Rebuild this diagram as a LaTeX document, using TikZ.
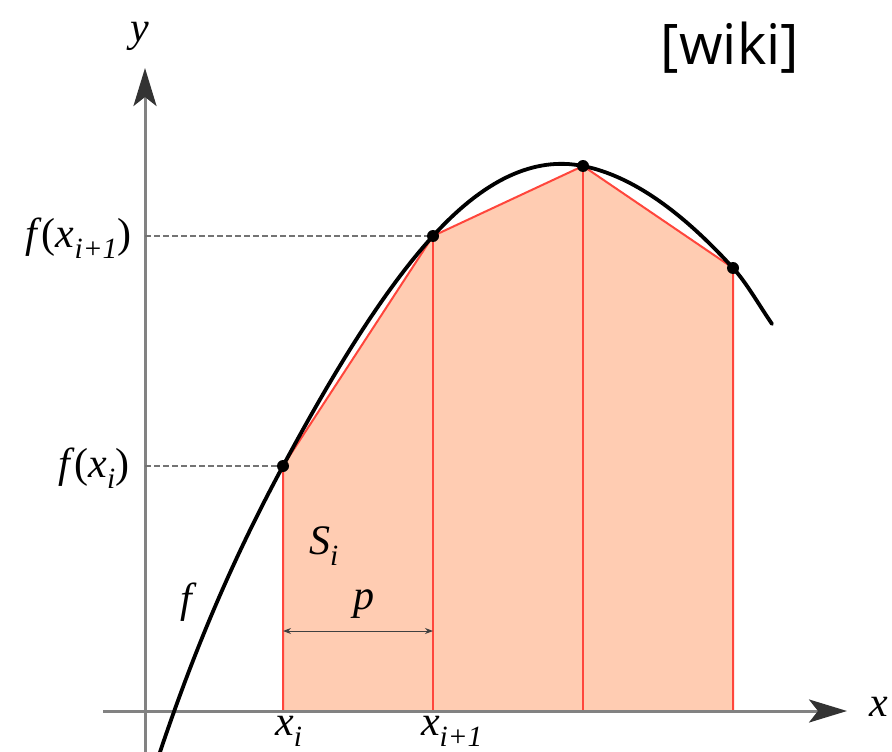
\documentclass[tikz,border=0pt]{standalone}
\usepackage{fontspec}
\setmainfont{Liberation Serif}
\newfontfamily\lblfont{Liberation Serif}
\newfontfamily\wikifont{Open Sans}
\usetikzlibrary{arrows.meta}

\definecolor{trapfill}{RGB}{255,204,178}
\definecolor{trapedge}{RGB}{255,70,60}
\definecolor{axisgray}{RGB}{130,130,130}

\newcommand{\itl}[1]{\textit{#1}}

\begin{document}
\begin{tikzpicture}[
    x=1pt, y=-1pt,
    axis/.style={line width=3pt, axisgray,
        -{Stealth[length=38pt, width=23pt, inset=9pt, black!80]}},
    guide/.style={dash pattern=on 6pt off 3pt, line width=1.3pt, black!55},
    edge/.style={trapedge, line width=2pt},
    curve/.style={line width=3.8pt, black},
    dot/.style={circle, fill=black, inner sep=0pt, minimum size=12pt},
    lbl/.style={font=\lblfont\fontsize{42}{48}\selectfont, inner sep=0pt},
    span/.style={line width=1pt, black!75, {Stealth[length=8pt, width=6pt]}-{Stealth[length=8pt, width=6pt]}}
]
\useasboundingbox (0,0) rectangle (892,752);

% sample points and their feet
\coordinate (P0) at (283,466);
\coordinate (P1) at (433,236);
\coordinate (P2) at (583,166);
\coordinate (P3) at (733,268);
\coordinate (B0) at (283,711);
\coordinate (B1) at (433,711);
\coordinate (B2) at (583,711);
\coordinate (B3) at (733,711);

% trapezoids
\fill[trapfill] (B0) -- (P0) -- (P1) -- (P2) -- (P3) -- (B3) -- cycle;
\draw[edge] (B0) -- (P0) -- (P1) -- (P2) -- (P3) -- (B3);
\draw[edge] (B1) -- (P1);
\draw[edge] (B2) -- (P2);

% axes
\coordinate (xstart) at (103,711);
\coordinate (xtip) at (847,711);
\coordinate (ystart) at (145,760);
\coordinate (ytip) at (145,68);
\draw[axis] (xstart) -- (xtip);
\draw[axis] (ystart) -- (ytip);

% guides to the y axis
\coordinate (Y0) at (145,466);
\coordinate (Y1) at (145,236);
\draw[guide] (Y0) -- (P0);
\draw[guide] (Y1) -- (P1);

% the function
\coordinate (fstart) at (158,758);
\coordinate (fend) at (772,324);
\draw[curve, line cap=round] (fstart)
    .. controls (200,632) and (241,544) .. (P0)
    .. controls (333,373) and (383,291) .. (P1)
    .. controls (483,181) and (533,156) .. (P2)
    .. controls (633,176) and (683,213) .. (P3)
    .. controls (746,282) and (759,305) .. (fend);

\foreach \p in {P0,P1,P2,P3}
    \node[dot] at (\p) {};

% width of a strip
\coordinate (W0) at (283,631);
\coordinate (W1) at (433,631);
\draw[span] (W0) -- (W1);

% labels
\node[lbl] (ylab) at (140,36) {\itl{y}};
\node[lbl] (xlab) at (879,707) {\itl{x}};
\node[lbl, anchor=east] (fxi) at (130,468) {\itl{f}(\itl{x}\textsubscript{\itl{i}})};
\node[lbl, anchor=east] (fxi1) at (132,238) {\itl{f}(\itl{x}\textsubscript{\itl{i+1}})};
\node[lbl] (flab) at (189,602) {\itl{f}};
\node[lbl] (slab) at (324,546) {\itl{S}\textsubscript{\itl{i}}};
\node[lbl] (plab) at (364,604) {\itl{p}};
\node[lbl] (xilab) at (289,731) {\itl{x}\textsubscript{\itl{i}}};
\node[lbl] (xi1lab) at (452,731) {\itl{x}\textsubscript{\itl{i+1}}};
\node[font=\wikifont\fontsize{56}{60}\selectfont, inner sep=0pt] (wiki) at (730,48) {[wiki]};

\end{tikzpicture}
\end{document}
